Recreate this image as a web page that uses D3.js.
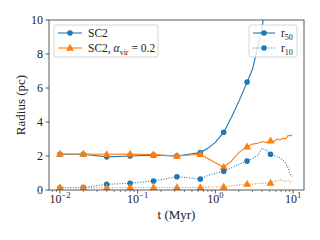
<!DOCTYPE html>
<html>
<head>
<meta charset="utf-8">
<script src="https://cdn.jsdelivr.net/npm/d3@7"></script>
<style>
body { margin: 0; background: #fff; }
svg { font-family: "Liberation Serif", "DejaVu Serif", serif; }
</style>
</head>
<body>
<div id="chart"></div>
<script>
// time samples (Myr)
var times = [0.01, 0.02, 0.04, 0.08, 0.16, 0.32, 0.64, 0.8, 1.0, 1.28, 1.6, 2.0, 2.56,
             3.0, 3.5, 4.0, 4.5, 5.12, 5.6, 6.2, 6.8, 7.4, 8.0, 8.6, 9.2, 9.8];
// indices of samples that carry a marker
var markIdx = [0, 1, 2, 3, 4, 5, 6, 9, 12, 17];

var sc2R50 = [2.1, 2.1, 1.95, 2.0, 2.05, 2.0, 2.2, 2.45, 2.8, 3.4, 4.25, 5.2, 6.35,
              7.1, 8.4, 9.6, 11.2, null, null, null, null, null, null, null, null, null];
var sc2R10 = [0.12, 0.15, 0.33, 0.4, 0.53, 0.78, 0.65, 0.85, 1.0, 1.1, 1.3, 1.5, 1.7,
              1.85, 2.05, 2.45, 2.35, 2.1, 2.05, 1.95, 1.9, 1.75, 1.6, 1.3, 0.9, 0.8];
var virR50 = [2.12, 2.12, 2.1, 2.12, 2.08, 2.0, 2.1, 1.85, 1.6, 1.35, 1.7, 2.2, 2.55,
              2.7, 2.75, 2.85, 2.8, 2.9, 2.85, 3.0, 2.95, 3.05, 3.0, 3.2, 3.2, 3.25];
var virR10 = [0.15, 0.15, 0.12, 0.15, 0.15, 0.15, 0.15, 0.17, 0.18, 0.2, 0.25, 0.3, 0.35,
              0.35, 0.38, 0.4, 0.42, 0.42, 0.5, 0.55, 0.6, 0.55, 0.5, 0.55, 0.45, 0.5];

var yTicks = [0, 2, 4, 6, 8, 10];
var xTicks = [0.01, 0.1, 1, 10];
var xTickExp = ["\u22122", "\u22121", "0", "1"];

var blue = "#1f77b4", orange = "#ff7f0e";
var W = 320, H = 240;
var pLeft = 49, pRight = 304, pTop = 20, pBottom = 190;

var x = d3.scaleLog().domain([0.00724, 13.8]).range([pLeft, pRight]);
var y = d3.scaleLinear().domain([0, 10]).range([pBottom, pTop]);

var svg = d3.select("#chart").append("svg")
    .attr("width", W).attr("height", H);

svg.append("clipPath").attr("id", "plotclip")
  .append("rect").attr("x", pLeft).attr("y", pTop)
  .attr("width", pRight - pLeft).attr("height", pBottom - pTop);

var series = [
  {vals: sc2R50, color: blue, dash: null, marker: "circle"},
  {vals: virR50, color: orange, dash: null, marker: "triangle"},
  {vals: sc2R10, color: blue, dash: "1,1.6", marker: "circle"},
  {vals: virR10, color: orange, dash: "1,1.6", marker: "triangle"}
];

var line = d3.line()
    .defined(function(d) { return d[1] != null; })
    .x(function(d) { return x(d[0]); })
    .y(function(d) { return y(d[1]); });

var plot = svg.append("g").attr("clip-path", "url(#plotclip)");

function drawMarker(g, type, cx, cy, color) {
  if (type === "circle") {
    g.append("circle").attr("cx", cx).attr("cy", cy).attr("r", 2.8).attr("fill", color);
  } else {
    g.append("path")
      .attr("d", d3.symbol().type(d3.symbolTriangle).size(28)())
      .attr("transform", "translate(" + cx + "," + (cy + 0.5) + ")")
      .attr("fill", color);
  }
}

series.forEach(function(s) {
  var pts = times.map(function(t, i) { return [t, s.vals[i]]; });
  plot.append("path")
    .attr("d", line(pts))
    .attr("fill", "none")
    .attr("stroke", s.color)
    .attr("stroke-width", 1.1)
    .attr("stroke-dasharray", s.dash);
  markIdx.forEach(function(i) {
    if (s.vals[i] == null) return;
    drawMarker(plot, s.marker, x(times[i]), y(s.vals[i]), s.color);
  });
});

// frame
svg.append("rect").attr("x", pLeft).attr("y", pTop)
  .attr("width", pRight - pLeft).attr("height", pBottom - pTop)
  .attr("fill", "none").attr("stroke", "#333").attr("stroke-width", 0.8);

// y ticks
yTicks.forEach(function(v) {
  svg.append("line").attr("x1", pLeft - 3.5).attr("x2", pLeft)
    .attr("y1", y(v)).attr("y2", y(v)).attr("stroke", "#333").attr("stroke-width", 0.8);
  svg.append("text").attr("x", pLeft - 6).attr("y", y(v) + 4)
    .attr("text-anchor", "end").attr("font-size", 12).attr("fill", "#222").text(v);
});

// x ticks (major + minor)
var minor = [];
for (var e = -3; e <= 1; e++) {
  for (var m = 2; m <= 9; m++) {
    var t = m * Math.pow(10, e);
    if (t >= x.domain()[0] && t <= x.domain()[1]) minor.push(t);
  }
}
minor.forEach(function(t) {
  svg.append("line").attr("x1", x(t)).attr("x2", x(t))
    .attr("y1", pBottom).attr("y2", pBottom + 2).attr("stroke", "#333").attr("stroke-width", 0.6);
});
xTicks.forEach(function(t, i) {
  svg.append("line").attr("x1", x(t)).attr("x2", x(t))
    .attr("y1", pBottom).attr("y2", pBottom + 3.5).attr("stroke", "#333").attr("stroke-width", 0.8);
  var lab = svg.append("text").attr("x", x(t)).attr("y", pBottom + 13)
    .attr("text-anchor", "middle").attr("font-size", 12).attr("fill", "#222");
  lab.append("tspan").text("10");
  lab.append("tspan").attr("dy", -5).attr("font-size", 8.5).text(xTickExp[i]);
});

// axis labels
svg.append("text").attr("x", (pLeft + pRight) / 2).attr("y", 219)
  .attr("text-anchor", "middle").attr("font-size", 13).attr("fill", "#222").text("t (Myr)");
svg.append("text").attr("transform", "translate(25," + ((pTop + pBottom) / 2) + ") rotate(-90)")
  .attr("text-anchor", "middle").attr("font-size", 13).attr("fill", "#222").text("Radius (pc)");

// legends
function legendBox(x0, y0, w, h) {
  svg.append("rect").attr("x", x0).attr("y", y0).attr("width", w).attr("height", h)
    .attr("rx", 2).attr("fill", "#fff").attr("fill-opacity", 0.8)
    .attr("stroke", "#ccc").attr("stroke-width", 0.8);
}
function legendLine(x0, x1, yy, color, dash, marker) {
  svg.append("line").attr("x1", x0).attr("x2", x1).attr("y1", yy).attr("y2", yy)
    .attr("stroke", color).attr("stroke-width", 1.1).attr("stroke-dasharray", dash);
  drawMarker(svg, marker, (x0 + x1) / 2, yy, color);
}

legendBox(54, 25, 104, 32);
legendLine(58, 82, 33, blue, null, "circle");
legendLine(58, 82, 48, orange, null, "triangle");
svg.append("text").attr("x", 88).attr("y", 37).attr("font-size", 11.5).attr("fill", "#222").text("SC2");
var l2 = svg.append("text").attr("x", 88).attr("y", 52).attr("font-size", 11.5).attr("fill", "#222");
l2.append("tspan").text("SC2, ");
l2.append("tspan").attr("font-style", "italic").text("\u03b1");
l2.append("tspan").attr("dy", 2.5).attr("font-size", 8).text("vir");
l2.append("tspan").attr("dy", -2.5).text(" = 0.2");

legendBox(249, 25, 48, 32);
legendLine(253, 275, 33, blue, null, "circle");
legendLine(253, 275, 48, blue, "1,1.6", "circle");
var r1 = svg.append("text").attr("x", 281).attr("y", 37).attr("font-size", 11.5).attr("fill", "#222");
r1.append("tspan").text("r");
r1.append("tspan").attr("dy", 2.5).attr("font-size", 8).text("50");
var r2 = svg.append("text").attr("x", 281).attr("y", 52).attr("font-size", 11.5).attr("fill", "#222");
r2.append("tspan").text("r");
r2.append("tspan").attr("dy", 2.5).attr("font-size", 8).text("10");
</script>
</body>
</html>
